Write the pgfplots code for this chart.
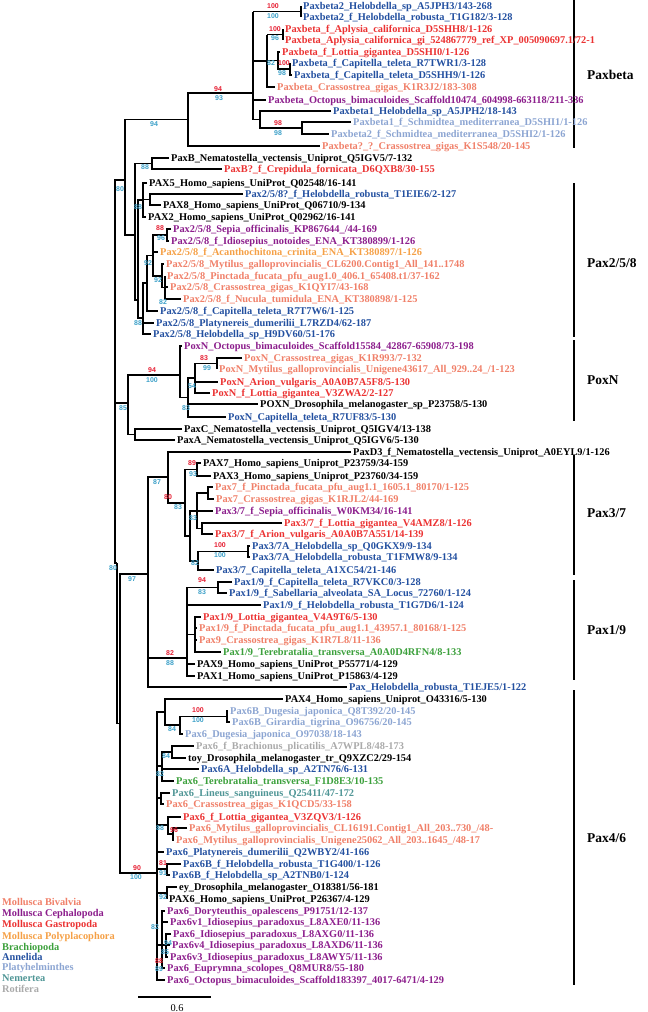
\documentclass[border=0pt]{standalone}
\usepackage{pgfplots}
\pgfplotsset{compat=1.18}
\usepackage{fontspec}
\setmainfont{Liberation Serif}
\newfontfamily\supff{Liberation Sans}
\definecolor{biv}{RGB}{240,128,105}
\definecolor{ceph}{RGB}{140,30,140}
\definecolor{gast}{RGB}{235,50,50}
\definecolor{poly}{RGB}{245,160,70}
\definecolor{brach}{RGB}{60,160,60}
\definecolor{anne}{RGB}{35,80,160}
\definecolor{plat}{RGB}{140,165,210}
\definecolor{nem}{RGB}{80,150,150}
\definecolor{rot}{RGB}{170,170,170}
\definecolor{supr}{RGB}{230,30,50}
\definecolor{supb}{RGB}{60,160,200}
\newcommand\labf{\bfseries\fontsize{10.4}{11}\selectfont}
\newcommand\supf{\supff\bfseries\fontsize{7}{8}\selectfont}
\newcommand\cladef{\bfseries\fontsize{13.5}{14}\selectfont}
\newcommand\lf[4]{\node[anchor=base west,inner sep=0pt,text=#3,font=\labf] at (axis cs:#1,{#2+3.6}) {\detokenize{#4}};}
\newcommand\supR[3]{\node[inner sep=0pt,text=supr,font=\supf] at (axis cs:#1,#2) {#3};}
\newcommand\supB[3]{\node[inner sep=0pt,text=supb,font=\supf] at (axis cs:#1,#2) {#3};}
\newcommand\clade[2]{\node[anchor=west,inner sep=0pt,font=\cladef] at (axis cs:587,#1) {#2};}
\begin{document}
\begin{tikzpicture}
\begin{axis}[x=1bp,y=1bp,y dir=reverse,xmin=0,xmax=648,ymin=0,ymax=1012,
  hide axis,clip=false,scale only axis,unbounded coords=jump]
\coordinate (BL) at (axis cs:0,1012);
\coordinate (TR) at (axis cs:648,0);
\addplot[black,line width=1.2pt,line join=miter,mark=none] coordinates {
(301,6)(301,17) (nan,nan)
(253,11.5)(301,11.5) (nan,nan)
(283,29)(283,40) (nan,nan)
(267,34.5)(283,34.5) (nan,nan)
(280,52)(278,52)(278,69)(290,69) (nan,nan)
(290,63)(290,75)(292,75) (nan,nan)
(267,34.5)(267,87)(275,87) (nan,nan)
(267,60.5)(278,60.5) (nan,nan)
(253,11.5)(253,119.5)(260,119.5) (nan,nan)
(253,61)(267,61) (nan,nan)
(253,100)(266,100) (nan,nan)
(331,111)(260,111)(260,128)(302,128) (nan,nan)
(351,122)(302,122)(302,134)(329,134) (nan,nan)
(253,93)(188,93)(188,146)(320,146) (nan,nan)
(188,119.5)(125,119.5)(125,235)(135,235) (nan,nan)
(169,158)(152,158)(152,169)(222,169) (nan,nan)
(152,163.5)(135,163.5)(135,300)(138,300) (nan,nan)
(147,183)(143,183)(143,217)(146,217) (nan,nan)
(143,199.5)(150,199.5) (nan,nan)
(243,194)(150,194)(150,205)(161,205) (nan,nan)
(143,200)(138,200)(138,318)(143,318) (nan,nan)
(171,229)(167,229)(167,241)(169,241) (nan,nan)
(167,235)(153,235)(153,276)(162,276) (nan,nan)
(153,252)(158,252) (nan,nan)
(164,264)(162,264)(162,287.5)(165,287.5) (nan,nan)
(165,276)(165,299)(181,299) (nan,nan)
(165,287)(168,287) (nan,nan)
(153,255.5)(147,255.5)(147,311)(158,311) (nan,nan)
(147,283)(143,283)(143,334)(151,334) (nan,nan)
(143,323)(154,323) (nan,nan)
(125,180)(115,180)(115,563)(117,563) (nan,nan)
(242,358)(217,358)(217,369) (nan,nan)
(217,363.5)(195,363.5)(195,393)(210,393) (nan,nan)
(195,382)(218,382) (nan,nan)
(195,378)(188,378)(188,417)(226,417) (nan,nan)
(188,404)(258,404) (nan,nan)
(182,346)(180,346)(180,397.5)(188,397.5) (nan,nan)
(180,375)(128,375)(128,434.5)(135,434.5) (nan,nan)
(182,429)(135,429)(135,440)(175,440) (nan,nan)
(128,403)(115,403) (nan,nan)
(117,563)(117,723.5)(120,723.5) (nan,nan)
(201,463)(197,463)(197,476)(211,476) (nan,nan)
(213,487)(208,487)(208,499)(214,499) (nan,nan)
(208,493)(197,493)(197,528.5)(202,528.5) (nan,nan)
(197,511)(213,511) (nan,nan)
(282,523)(202,523)(202,534)(213,534) (nan,nan)
(250,546)(248,546)(248,557)(250,557) (nan,nan)
(248,551.5)(198,551.5)(198,570)(214,570) (nan,nan)
(197,511)(190,511)(190,561)(198,561) (nan,nan)
(197,469.5)(185,469.5)(185,536)(190,536) (nan,nan)
(351,452)(168,452)(168,503)(185,503) (nan,nan)
(168,477)(148,477)(148,687)(347,687) (nan,nan)
(148,658)(187,658) (nan,nan)
(232,582)(218,582)(218,593)(227,593) (nan,nan)
(201,617)(195,617)(195,652)(221,652) (nan,nan)
(195,628)(197,628) (nan,nan)
(195,640)(197,640) (nan,nan)
(195,664)(187,664)(187,676)(195,676) (nan,nan)
(218,587.5)(187,587.5)(187,664) (nan,nan)
(187,605)(261,605) (nan,nan)
(187,634.5)(195,634.5) (nan,nan)
(148,574)(120,574)(120,873)(157,873) (nan,nan)
(228,711)(227,711)(227,722)(230,722) (nan,nan)
(227,716.5)(180,716.5)(180,734)(183,734) (nan,nan)
(283,699)(165,699)(165,725)(180,725) (nan,nan)
(165,712)(157,712)(157,980)(165,980) (nan,nan)
(194,746)(172,746)(172,758)(186,758) (nan,nan)
(172,752)(162,752)(162,781)(174,781) (nan,nan)
(162,769)(199,769) (nan,nan)
(157,766)(162,766) (nan,nan)
(170,793)(161,793)(161,804)(164,804) (nan,nan)
(157,798)(161,798) (nan,nan)
(181,817)(168,817)(168,834)(173,834) (nan,nan)
(157,825)(168,825) (nan,nan)
(187,828)(173,828)(173,840)(174,840) (nan,nan)
(157,852)(164,852) (nan,nan)
(181,864)(167,864)(167,875)(170,875) (nan,nan)
(157,869)(167,869) (nan,nan)
(177,887)(167,887)(167,899) (nan,nan)
(157,893)(167,893) (nan,nan)
(165,911)(162,911)(162,968)(165,968) (nan,nan)
(162,922)(168,922) (nan,nan)
(157,945)(166,945) (nan,nan)
(171,934)(166,934)(166,957)(168,957) (nan,nan)
(166,945)(170,945) (nan,nan)
};
% clade bars and scale bar
\addplot[black,line width=1.2pt,mark=none] coordinates {
(574,0)(574,148) (nan,nan)
(574,183)(574,337) (nan,nan)
(574,340)(574,421) (nan,nan)
(574,455)(574,575) (nan,nan)
(574,580)(574,680) (nan,nan)
(574,690)(574,985) (nan,nan)
(138,997)(211,997)
};
\lf{303}{6}{anne}{Paxbeta2_Helobdella_sp_A5JPH3/143-268}
\lf{303}{17}{anne}{Paxbeta2_f_Helobdella_robusta_T1G182/3-128}
\lf{285}{29}{gast}{Paxbeta_f_Aplysia_californica_D5SHH8/1-126}
\lf{285}{40}{gast}{Paxbeta_Aplysia_californica_gi_524867779_ref_XP_005090697.1/72-1}
\lf{282}{52}{gast}{Paxbeta_f_Lottia_gigantea_D5SHI0/1-126}
\lf{292}{63}{anne}{Paxbeta_f_Capitella_teleta_R7TWR1/3-128}
\lf{294}{75}{anne}{Paxbeta_f_Capitella_teleta_D5SHH9/1-126}
\lf{277}{87}{biv}{Paxbeta_Crassostrea_gigas_K1R3J2/183-308}
\lf{268}{100}{ceph}{Paxbeta_Octopus_bimaculoides_Scaffold10474_604998-663118/211-336}
\lf{333}{111}{anne}{Paxbeta1_Helobdella_sp_A5JPH2/18-143}
\lf{353}{122}{plat}{Paxbeta1_f_Schmidtea_mediterranea_D5SHI1/1-126}
\lf{331}{134}{plat}{Paxbeta2_f_Schmidtea_mediterranea_D5SHI2/1-126}
\lf{322}{146}{biv}{Paxbeta?_?_Crassostrea_gigas_K1S548/20-145}
\lf{171}{158}{black}{PaxB_Nematostella_vectensis_Uniprot_Q5IGV5/7-132}
\lf{224}{169}{gast}{PaxB?_f_Crepidula_fornicata_D6QXB8/30-155}
\lf{149}{183}{black}{PAX5_Homo_sapiens_UniProt_Q02548/16-141}
\lf{245}{194}{anne}{Pax2/5/8?_f_Helobdella_robusta_T1EIE6/2-127}
\lf{163}{205}{black}{PAX8_Homo_sapiens_UniProt_Q06710/9-134}
\lf{148}{217}{black}{PAX2_Homo_sapiens_UniProt_Q02962/16-141}
\lf{173}{229}{ceph}{Pax2/5/8_Sepia_officinalis_KP867644_/44-169}
\lf{171}{241}{ceph}{Pax2/5/8_f_Idiosepius_notoides_ENA_KT380899/1-126}
\lf{160}{252}{poly}{Pax2/5/8_f_Acanthochitona_crinita_ENA_KT380897/1-126}
\lf{166}{264}{biv}{Pax2/5/8_Mytilus_galloprovincialis_CL6200.Contig1_All_141..1748}
\lf{167}{276}{biv}{Pax2/5/8_Pinctada_fucata_pfu_aug1.0_406.1_65408.t1/37-162}
\lf{170}{287}{biv}{Pax2/5/8_Crassostrea_gigas_K1QYI7/43-168}
\lf{183}{299}{biv}{Pax2/5/8_f_Nucula_tumidula_ENA_KT380898/1-125}
\lf{160}{311}{anne}{Pax2/5/8_f_Capitella_teleta_R7T7W6/1-125}
\lf{156}{323}{anne}{Pax2/5/8_Platynereis_dumerilii_L7RZD4/62-187}
\lf{153}{334}{anne}{Pax2/5/8_Helobdella_sp_H9DV60/51-176}
\lf{184}{346}{ceph}{PoxN_Octopus_bimaculoides_Scaffold15584_42867-65908/73-198}
\lf{244}{358}{biv}{PoxN_Crassostrea_gigas_K1R993/7-132}
\lf{219}{369}{biv}{PoxN_Mytilus_galloprovincialis_Unigene43617_All_929..24_/1-123}
\lf{220}{382}{gast}{PoxN_Arion_vulgaris_A0A0B7A5F8/5-130}
\lf{212}{393}{gast}{PoxN_f_Lottia_gigantea_V3ZWA2/2-127}
\lf{260}{404}{black}{POXN_Drosophila_melanogaster_sp_P23758/5-130}
\lf{228}{417}{anne}{PoxN_Capitella_teleta_R7UF83/5-130}
\lf{184}{429}{black}{PaxC_Nematostella_vectensis_Uniprot_Q5IGV4/13-138}
\lf{177}{440}{black}{PaxA_Nematostella_vectensis_Uniprot_Q5IGV6/5-130}
\lf{353}{452}{black}{PaxD3_f_Nematostella_vectensis_Uniprot_A0EYL9/1-126}
\lf{203}{463}{black}{PAX7_Homo_sapiens_Uniprot_P23759/34-159}
\lf{213}{476}{black}{PAX3_Homo_sapiens_Uniprot_P23760/34-159}
\lf{215}{487}{biv}{Pax7_f_Pinctada_fucata_pfu_aug1.1_1605.1_80170/1-125}
\lf{216}{499}{biv}{Pax7_Crassostrea_gigas_K1RJL2/44-169}
\lf{215}{511}{ceph}{Pax3/7_f_Sepia_officinalis_W0KM34/16-141}
\lf{284}{523}{gast}{Pax3/7_f_Lottia_gigantea_V4AMZ8/1-126}
\lf{215}{534}{gast}{Pax3/7_f_Arion_vulgaris_A0A0B7A551/14-139}
\lf{252}{546}{anne}{Pax3/7A_Helobdella_sp_Q0GKX9/9-134}
\lf{252}{557}{anne}{Pax3/7A_Helobdella_robusta_T1FMW8/9-134}
\lf{216}{570}{anne}{Pax3/7_Capitella_teleta_A1XC54/21-146}
\lf{234}{582}{anne}{Pax1/9_f_Capitella_teleta_R7VKC0/3-128}
\lf{229}{593}{anne}{Pax1/9_f_Sabellaria_alveolata_SA_Locus_72760/1-124}
\lf{263}{605}{anne}{Pax1/9_f_Helobdella_robusta_T1G7D6/1-124}
\lf{203}{617}{gast}{Pax1/9_Lottia_gigantea_V4A9T6/5-130}
\lf{199}{628}{biv}{Pax1/9_f_Pinctada_fucata_pfu_aug1.1_43957.1_80168/1-125}
\lf{199}{640}{biv}{Pax9_Crassostrea_gigas_K1R7L8/11-136}
\lf{223}{652}{brach}{Pax1/9_Terebratalia_transversa_A0A0D4RFN4/8-133}
\lf{197}{664}{black}{PAX9_Homo_sapiens_UniProt_P55771/4-129}
\lf{197}{676}{black}{PAX1_Homo_sapiens_UniProt_P15863/4-129}
\lf{349}{687}{anne}{Pax_Helobdella_robusta_T1EJE5/1-122}
\lf{285}{699}{black}{PAX4_Homo_sapiens_Uniprot_O43316/5-130}
\lf{230}{711}{plat}{Pax6B_Dugesia_japonica_Q8T392/20-145}
\lf{232}{722}{plat}{Pax6B_Girardia_tigrina_O96756/20-145}
\lf{185}{734}{plat}{Pax6_Dugesia_japonica_O97038/18-143}
\lf{196}{746}{rot}{Pax6_f_Brachionus_plicatilis_A7WPL8/48-173}
\lf{188}{758}{black}{toy_Drosophila_melanogaster_tr_Q9XZC2/29-154}
\lf{201}{769}{anne}{Pax6A_Helobdella_sp_A2TN76/6-131}
\lf{176}{781}{brach}{Pax6_Terebratalia_transversa_F1D8E3/10-135}
\lf{172}{793}{nem}{Pax6_Lineus_sanguineus_Q25411/47-172}
\lf{166}{804}{biv}{Pax6_Crassostrea_gigas_K1QCD5/33-158}
\lf{183}{817}{gast}{Pax6_f_Lottia_gigantea_V3ZQV3/1-126}
\lf{189}{828}{biv}{Pax6_Mytilus_galloprovincialis_CL16191.Contig1_All_203..730_/48-}
\lf{176}{840}{biv}{Pax6_Mytilus_galloprovincialis_Unigene25062_All_203..1645_/48-17}
\lf{166}{852}{anne}{Pax6_Platynereis_dumerilii_Q2WBY2/41-166}
\lf{183}{864}{anne}{Pax6B_f_Helobdella_robusta_T1G400/1-126}
\lf{172}{875}{anne}{Pax6B_f_Helobdella_sp_A2TNB0/1-124}
\lf{179}{887}{black}{ey_Drosophila_melanogaster_O18381/56-181}
\lf{169}{899}{black}{PAX6_Homo_sapiens_UniProt_P26367/4-129}
\lf{167}{911}{ceph}{Pax6_Doryteuthis_opalescens_P91751/12-137}
\lf{170}{922}{ceph}{Pax6v1_Idiosepius_paradoxus_L8AXE0/11-136}
\lf{173}{934}{ceph}{Pax6_Idiosepius_paradoxus_L8AXG0/11-136}
\lf{172}{945}{ceph}{Pax6v4_Idiosepius_paradoxus_L8AXD6/11-136}
\lf{170}{957}{ceph}{Pax6v3_Idiosepius_paradoxus_L8AWY5/11-136}
\lf{167}{968}{ceph}{Pax6_Euprymna_scolopes_Q8MUR8/55-180}
\lf{167}{980}{ceph}{Pax6_Octopus_bimaculoides_Scaffold183397_4017-6471/4-129}
% support values
\supR{273}{6}{100}\supB{273}{16}{100}
\supR{275}{29}{100}\supB{275}{38}{96}
\supB{271}{63}{82}
\supR{284}{63}{100}\supB{282}{73}{98}
\supR{218}{89}{94}\supB{219}{98}{93}
\supR{278}{123}{98}\supB{278}{133}{98}
\supB{154}{124}{94}
\supB{145}{167}{88}
\supB{120}{189}{80}
\supB{138}{207}{88}
\supR{160}{228}{88}\supB{161}{238}{96}
\supB{148}{263}{92}
\supB{158}{280}{92}
\supB{163}{302}{82}
\supB{138}{323}{88}
\supR{152}{370}{94}\supB{152}{380}{100}
\supR{204}{358}{83}\supB{207}{368}{99}
\supB{192}{386}{54}
\supB{186}{408}{83}
\supB{123}{408}{85}
\supR{192}{463}{89}\supB{193}{474}{93}
\supB{157}{482}{87}
\supR{168}{497}{80}\supB{178}{507}{83}
\supB{193}{518}{83}
\supR{220}{545}{100}\supB{220}{555}{100}
\supB{195}{563}{82}
\supB{113}{568}{80}
\supB{132}{579}{97}
\supR{202}{580}{94}\supB{202}{592}{83}
\supR{170}{653}{82}\supB{170}{663}{88}
\supR{198}{710}{100}\supB{198}{720}{100}
\supB{172}{729}{84}
\supB{166}{756}{84}
\supB{160}{774}{82}
\supB{160}{828}{88}\supR{174}{830}{96}
\supR{137}{868}{90}\supB{136}{877}{100}
\supR{163}{863}{81}\supB{163}{873}{91}
\supB{163}{897}{92}
\supB{155}{927}{82}
\supB{168}{943}{94}
\supB{165}{952}{85}
\supR{159}{961}{88}\supB{159}{969}{89}
% clade labels
\clade{75}{Paxbeta}
\clade{263}{Pax2/5/8}
\clade{380}{PoxN}
\clade{513}{Pax3/7}
\clade{630}{Pax1/9}
\clade{838}{Pax4/6}
% legend
\lf{2}{902}{biv}{Mollusca Bivalvia}
\lf{2}{913}{ceph}{Mollusca Cephalopoda}
\lf{2}{924}{gast}{Mollusca Gastropoda}
\lf{2}{936}{poly}{Mollusca Polyplacophora}
\lf{2}{947}{brach}{Brachiopoda}
\lf{2}{957}{anne}{Annelida}
\lf{2}{967}{plat}{Platyhelminthes}
\lf{2}{978}{nem}{Nemertea}
\lf{2}{989}{rot}{Rotifera}
\node[inner sep=0pt,font=\fontsize{10.4}{11}\selectfont] at (axis cs:177,1008) {0.6};
\end{axis}
\pgfresetboundingbox
\useasboundingbox (BL) rectangle (TR);
\end{tikzpicture}
\end{document}
